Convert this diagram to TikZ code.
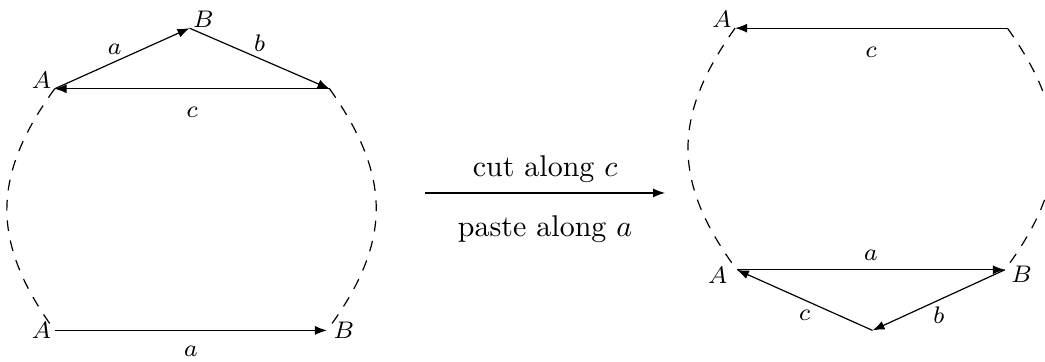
\documentclass[tikz,border=0pt]{standalone}
\usepackage{amsmath,amssymb}
\usepackage{tikz}
\usetikzlibrary{positioning,arrows.meta}

\begin{document}
\begin{tikzpicture}[
  lbl/.style={font=\footnotesize, inner sep=1pt},
  side/.style={-{Latex[length=4pt]}},
  seam/.style={dash pattern=on 3.6pt off 3.2pt},
  maparrow/.style={-{Latex[length=4pt]}}
]
  \useasboundingbox (0,0) rectangle (12.24,4.24);
  \coordinate (A1) at (0.64,3.20);
  \coordinate (B1) at (2.22,3.91);
  \coordinate (C1) at (3.86,3.20);
  \coordinate (A2) at (0.64,0.37);
  \coordinate (B2) at (3.83,0.37);
  \node[lbl, above left=-1pt and 0pt of A1] (lA1) {$A$};
  \node[lbl, above right=-1pt and 0pt of B1] (lB1) {$B$};
  \node[lbl, left=0pt of A2] (lA2) {$A$};
  \node[lbl, right=1pt of B2] (lB2) {$B$};
  \draw[side] (A1) -- node[lbl, above left=0pt and -1pt] (ea1) {$a$} (B1);
  \draw[side] (B1) -- node[lbl, above=1pt] (eb1) {$b$} (C1);
  \draw[side] (C1) -- node[lbl, below=5pt] (ec1) {$c$} (A1);
  \draw[side] (A2) -- node[lbl, below=4pt] (ea2) {$a$} (B2);
  \draw[seam] (A1) to[bend right=36, looseness=1.15] (A2);
  \draw[seam] (C1) to[bend left=36, looseness=1.15] (B2);

  \coordinate (mapL) at (4.98,1.98);
  \coordinate (mapR) at (7.79,1.98);
  \draw[maparrow] (mapL) -- node[above] (cut) {cut along $c$} node[below=4pt] (paste) {paste along $a$} (mapR);

  \coordinate (A3) at (8.61,3.91);
  \coordinate (D3) at (11.80,3.91);
  \coordinate (A4) at (8.63,1.08);
  \coordinate (B4) at (11.77,1.08);
  \coordinate (E4) at (10.22,0.37);
  \node[lbl, above left=-1pt and 0pt of A3] (lA3) {$A$};
  \node[lbl, left=2pt of A4, yshift=-2pt] (lA4) {$A$};
  \node[lbl, right=1pt of B4, yshift=-1.5pt] (lB4) {$B$};
  \draw[side] (D3) -- node[lbl, below=5pt] (ec3) {$c$} (A3);
  \draw[side] (A4) -- node[lbl, above=2pt] (ea4) {$a$} (B4);
  \draw[side] (B4) -- node[lbl, below=1pt] (eb4) {$b$} (E4);
  \draw[side] (E4) -- node[lbl, below=2pt] (ec4) {$c$} (A4);
  \draw[seam] (A3) to[bend right=36, looseness=1.15] (A4);
  \draw[seam] (D3) to[bend left=36, looseness=1.15] (B4);
\end{tikzpicture}
\end{document}
